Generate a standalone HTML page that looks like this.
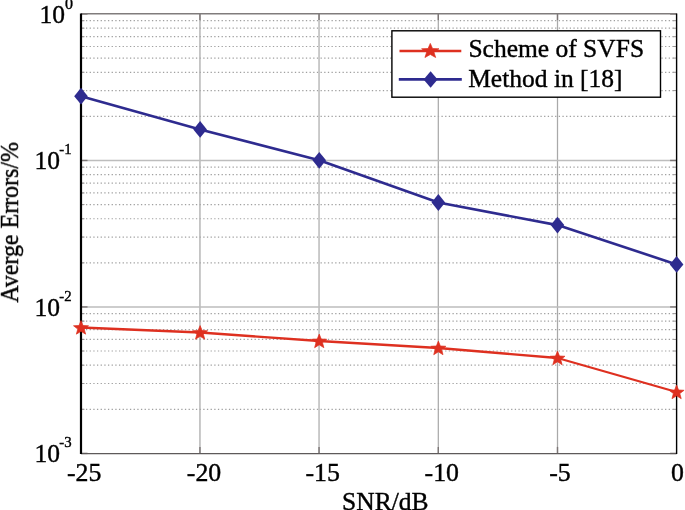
<!DOCTYPE html><html><head><meta charset="utf-8"><title>chart</title><style>html,body{margin:0;padding:0;background:#fff;overflow:hidden}svg{display:block}text{font-family:"Liberation Serif",serif;fill:#000;stroke:#000;stroke-width:0.4px}</style></head><body>
<svg width="685" height="510" viewBox="0 0 685 510">
<rect width="685" height="510" fill="#fff"/>
<g stroke="#a0a0a0" stroke-width="1.2" stroke-dasharray="1.3 2.365" fill="none">
<line x1="82.3" x2="676.6" y1="116.38" y2="116.38"/>
<line x1="82.3" x2="676.6" y1="90.58" y2="90.58"/>
<line x1="82.3" x2="676.6" y1="72.28" y2="72.28"/>
<line x1="82.3" x2="676.6" y1="58.09" y2="58.09"/>
<line x1="82.3" x2="676.6" y1="46.49" y2="46.49"/>
<line x1="82.3" x2="676.6" y1="36.69" y2="36.69"/>
<line x1="82.3" x2="676.6" y1="28.19" y2="28.19"/>
<line x1="82.3" x2="676.6" y1="20.70" y2="20.70"/>
<line x1="82.3" x2="676.6" y1="262.84" y2="262.84"/>
<line x1="82.3" x2="676.6" y1="237.05" y2="237.05"/>
<line x1="82.3" x2="676.6" y1="218.75" y2="218.75"/>
<line x1="82.3" x2="676.6" y1="204.56" y2="204.56"/>
<line x1="82.3" x2="676.6" y1="192.96" y2="192.96"/>
<line x1="82.3" x2="676.6" y1="183.15" y2="183.15"/>
<line x1="82.3" x2="676.6" y1="174.66" y2="174.66"/>
<line x1="82.3" x2="676.6" y1="167.17" y2="167.17"/>
<line x1="82.3" x2="676.6" y1="409.31" y2="409.31"/>
<line x1="82.3" x2="676.6" y1="383.52" y2="383.52"/>
<line x1="82.3" x2="676.6" y1="365.22" y2="365.22"/>
<line x1="82.3" x2="676.6" y1="351.02" y2="351.02"/>
<line x1="82.3" x2="676.6" y1="339.43" y2="339.43"/>
<line x1="82.3" x2="676.6" y1="329.62" y2="329.62"/>
<line x1="82.3" x2="676.6" y1="321.13" y2="321.13"/>
<line x1="82.3" x2="676.6" y1="313.64" y2="313.64"/>
</g>
<line x1="199.95" x2="199.95" y1="14.0" y2="453.4" stroke="#aeaeae" stroke-width="1.35"/>
<line x1="319.05" x2="319.05" y1="14.0" y2="453.4" stroke="#c2c2c2" stroke-width="1.7"/>
<line x1="438.30" x2="438.30" y1="14.0" y2="453.4" stroke="#a6a6a6" stroke-width="1.2"/>
<line x1="557.50" x2="557.50" y1="14.0" y2="453.4" stroke="#a9a9a9" stroke-width="1.25"/>
<g stroke="#bdbdbd" stroke-width="1.5" fill="none">
<line x1="81.0" x2="676.6" y1="160.47" y2="160.47"/>
<line x1="81.0" x2="676.6" y1="306.93" y2="306.93"/>
</g>
<g stroke="#7c7676" stroke-width="1.4" fill="none">
<line x1="199.95" x2="199.95" y1="14.0" y2="20.0"/>
<line x1="199.95" x2="199.95" y1="453.4" y2="446.9"/>
<line x1="319.05" x2="319.05" y1="14.0" y2="20.0"/>
<line x1="319.05" x2="319.05" y1="453.4" y2="446.9"/>
<line x1="438.30" x2="438.30" y1="14.0" y2="20.0"/>
<line x1="438.30" x2="438.30" y1="453.4" y2="446.9"/>
<line x1="557.50" x2="557.50" y1="14.0" y2="20.0"/>
<line x1="557.50" x2="557.50" y1="453.4" y2="446.9"/>
<line x1="81.0" x2="87.5" y1="14.00" y2="14.00"/>
<line x1="676.6" x2="670.1" y1="14.00" y2="14.00"/>
<line x1="81.0" x2="87.5" y1="160.47" y2="160.47"/>
<line x1="676.6" x2="670.1" y1="160.47" y2="160.47"/>
<line x1="81.0" x2="87.5" y1="306.93" y2="306.93"/>
<line x1="676.6" x2="670.1" y1="306.93" y2="306.93"/>
<line x1="81.0" x2="87.5" y1="453.40" y2="453.40"/>
<line x1="676.6" x2="670.1" y1="453.40" y2="453.40"/>
</g>
<g stroke="#9a9696" stroke-width="1" fill="none">
<line x1="81.0" x2="84.5" y1="116.38" y2="116.38"/>
<line x1="676.6" x2="673.1" y1="116.38" y2="116.38"/>
<line x1="81.0" x2="84.5" y1="90.58" y2="90.58"/>
<line x1="676.6" x2="673.1" y1="90.58" y2="90.58"/>
<line x1="81.0" x2="84.5" y1="72.28" y2="72.28"/>
<line x1="676.6" x2="673.1" y1="72.28" y2="72.28"/>
<line x1="81.0" x2="84.5" y1="58.09" y2="58.09"/>
<line x1="676.6" x2="673.1" y1="58.09" y2="58.09"/>
<line x1="81.0" x2="84.5" y1="46.49" y2="46.49"/>
<line x1="676.6" x2="673.1" y1="46.49" y2="46.49"/>
<line x1="81.0" x2="84.5" y1="36.69" y2="36.69"/>
<line x1="676.6" x2="673.1" y1="36.69" y2="36.69"/>
<line x1="81.0" x2="84.5" y1="28.19" y2="28.19"/>
<line x1="676.6" x2="673.1" y1="28.19" y2="28.19"/>
<line x1="81.0" x2="84.5" y1="20.70" y2="20.70"/>
<line x1="676.6" x2="673.1" y1="20.70" y2="20.70"/>
<line x1="81.0" x2="84.5" y1="262.84" y2="262.84"/>
<line x1="676.6" x2="673.1" y1="262.84" y2="262.84"/>
<line x1="81.0" x2="84.5" y1="237.05" y2="237.05"/>
<line x1="676.6" x2="673.1" y1="237.05" y2="237.05"/>
<line x1="81.0" x2="84.5" y1="218.75" y2="218.75"/>
<line x1="676.6" x2="673.1" y1="218.75" y2="218.75"/>
<line x1="81.0" x2="84.5" y1="204.56" y2="204.56"/>
<line x1="676.6" x2="673.1" y1="204.56" y2="204.56"/>
<line x1="81.0" x2="84.5" y1="192.96" y2="192.96"/>
<line x1="676.6" x2="673.1" y1="192.96" y2="192.96"/>
<line x1="81.0" x2="84.5" y1="183.15" y2="183.15"/>
<line x1="676.6" x2="673.1" y1="183.15" y2="183.15"/>
<line x1="81.0" x2="84.5" y1="174.66" y2="174.66"/>
<line x1="676.6" x2="673.1" y1="174.66" y2="174.66"/>
<line x1="81.0" x2="84.5" y1="167.17" y2="167.17"/>
<line x1="676.6" x2="673.1" y1="167.17" y2="167.17"/>
<line x1="81.0" x2="84.5" y1="409.31" y2="409.31"/>
<line x1="676.6" x2="673.1" y1="409.31" y2="409.31"/>
<line x1="81.0" x2="84.5" y1="383.52" y2="383.52"/>
<line x1="676.6" x2="673.1" y1="383.52" y2="383.52"/>
<line x1="81.0" x2="84.5" y1="365.22" y2="365.22"/>
<line x1="676.6" x2="673.1" y1="365.22" y2="365.22"/>
<line x1="81.0" x2="84.5" y1="351.02" y2="351.02"/>
<line x1="676.6" x2="673.1" y1="351.02" y2="351.02"/>
<line x1="81.0" x2="84.5" y1="339.43" y2="339.43"/>
<line x1="676.6" x2="673.1" y1="339.43" y2="339.43"/>
<line x1="81.0" x2="84.5" y1="329.62" y2="329.62"/>
<line x1="676.6" x2="673.1" y1="329.62" y2="329.62"/>
<line x1="81.0" x2="84.5" y1="321.13" y2="321.13"/>
<line x1="676.6" x2="673.1" y1="321.13" y2="321.13"/>
<line x1="81.0" x2="84.5" y1="313.64" y2="313.64"/>
<line x1="676.6" x2="673.1" y1="313.64" y2="313.64"/>
</g>
<line x1="81.0" x2="676.6" y1="13.75" y2="13.75" stroke="#807c7c" stroke-width="1.7"/>
<line x1="81.0" x2="676.6" y1="453.54999999999995" y2="453.54999999999995" stroke="#5e5a5a" stroke-width="1.15"/>
<line x1="81.0" x2="81.0" y1="13.4" y2="454.0" stroke="#000" stroke-width="2.2"/>
<line x1="676.6" x2="676.6" y1="13.4" y2="454.0" stroke="#000" stroke-width="1.4"/>
<polyline points="81.00,96.20 200.12,129.40 319.24,160.30 438.36,202.50 557.48,225.10 676.60,264.40" fill="none" stroke="#2e2b8f" stroke-width="2.6" stroke-linejoin="round"/>
<polygon points="74.20,96.20 81.00,87.80 87.80,96.20 81.00,104.60" fill="#2e2b8f"/>
<polygon points="193.32,129.40 200.12,121.00 206.92,129.40 200.12,137.80" fill="#2e2b8f"/>
<polygon points="312.44,160.30 319.24,151.90 326.04,160.30 319.24,168.70" fill="#2e2b8f"/>
<polygon points="431.56,202.50 438.36,194.10 445.16,202.50 438.36,210.90" fill="#2e2b8f"/>
<polygon points="550.68,225.10 557.48,216.70 564.28,225.10 557.48,233.50" fill="#2e2b8f"/>
<polygon points="669.80,264.40 676.60,256.00 683.40,264.40 676.60,272.80" fill="#2e2b8f"/>
<polyline points="81.00,327.50 200.12,332.50 319.24,341.00 438.36,348.00 557.48,358.00 676.60,392.00" fill="none" stroke="#de3020" stroke-width="2.3" stroke-linejoin="round"/>
<polygon points="81.00,320.60 82.99,325.49 88.49,325.78 84.22,329.10 85.63,334.17 81.00,331.33 76.37,334.17 77.78,329.10 73.51,325.78 79.01,325.49" fill="#de3020" stroke="#de3020" stroke-width="0.7" stroke-linejoin="miter"/>
<polygon points="200.12,325.60 202.11,330.49 207.61,330.78 203.34,334.10 204.75,339.17 200.12,336.33 195.49,339.17 196.90,334.10 192.63,330.78 198.13,330.49" fill="#de3020" stroke="#de3020" stroke-width="0.7" stroke-linejoin="miter"/>
<polygon points="319.24,334.10 321.23,338.99 326.73,339.28 322.46,342.60 323.87,347.67 319.24,344.83 314.61,347.67 316.02,342.60 311.75,339.28 317.25,338.99" fill="#de3020" stroke="#de3020" stroke-width="0.7" stroke-linejoin="miter"/>
<polygon points="438.36,341.10 440.35,345.99 445.85,346.28 441.58,349.60 442.99,354.67 438.36,351.83 433.73,354.67 435.14,349.60 430.87,346.28 436.37,345.99" fill="#de3020" stroke="#de3020" stroke-width="0.7" stroke-linejoin="miter"/>
<polygon points="557.48,351.10 559.47,355.99 564.97,356.28 560.70,359.60 562.11,364.67 557.48,361.83 552.85,364.67 554.26,359.60 549.99,356.28 555.49,355.99" fill="#de3020" stroke="#de3020" stroke-width="0.7" stroke-linejoin="miter"/>
<polygon points="676.60,385.10 678.59,389.99 684.09,390.28 679.82,393.60 681.23,398.67 676.60,395.83 671.97,398.67 673.38,393.60 669.11,390.28 674.61,389.99" fill="#de3020" stroke="#de3020" stroke-width="0.7" stroke-linejoin="miter"/>
<rect x="391.9" y="30.8" width="268.60" height="66.40" fill="#fff" stroke="#000" stroke-width="1.4"/>
<line x1="399.5" x2="461.3" y1="51.0" y2="51.0" stroke="#de3020" stroke-width="2.5"/>
<polygon points="430.30,43.40 432.55,48.55 438.98,48.79 433.95,52.21 435.66,57.51 430.30,54.48 424.94,57.51 426.65,52.21 421.62,48.79 428.05,48.55" fill="#de3020" stroke="#de3020" stroke-width="0.7" stroke-linejoin="miter"/>
<line x1="398.8" x2="461.8" y1="79.4" y2="79.4" stroke="#2e2b8f" stroke-width="2.6"/>
<polygon points="423.60,79.50 430.60,71.20 437.60,79.50 430.60,87.80" fill="#2e2b8f"/>
<g style="filter:grayscale(1)">
<text x="468.4" y="57.3" font-size="25.5">Scheme of SVFS</text>
<text x="468.2" y="87" font-size="25.5">Method in [18]</text>
<text transform="translate(84.15,481) scale(1.05,1)" font-size="24.6" text-anchor="middle">-25</text>
<text transform="translate(204.00,481) scale(1.05,1)" font-size="24.6" text-anchor="middle">-20</text>
<text transform="translate(322.65,481) scale(1.05,1)" font-size="24.6" text-anchor="middle">-15</text>
<text transform="translate(441.75,481) scale(1.05,1)" font-size="24.6" text-anchor="middle">-10</text>
<text transform="translate(559.90,481) scale(1.05,1)" font-size="24.6" text-anchor="middle">-5</text>
<text transform="translate(677.45,481) scale(1.05,1)" font-size="24.6" text-anchor="middle">0</text>
<text x="39.4" y="22.50" font-size="25.5">10</text>
<text x="64.9" y="9.20" font-size="16">0</text>
<text x="34.6" y="169.07" font-size="25.5">10</text>
<text x="59.3" y="154.27" font-size="14.8">-1</text>
<text x="34.6" y="315.53" font-size="25.5">10</text>
<text x="59.3" y="300.73" font-size="14.8">-2</text>
<text x="34.6" y="462.00" font-size="25.5">10</text>
<text x="59.3" y="447.20" font-size="14.8">-3</text>
<text x="385.3" y="509.6" font-size="25.5" text-anchor="middle">SNR/dB</text>
<text transform="translate(18,222.4) rotate(-90) scale(0.94,1)" font-size="25.5" text-anchor="middle">Averge Errors/%</text>
</g>
</svg></body></html>
